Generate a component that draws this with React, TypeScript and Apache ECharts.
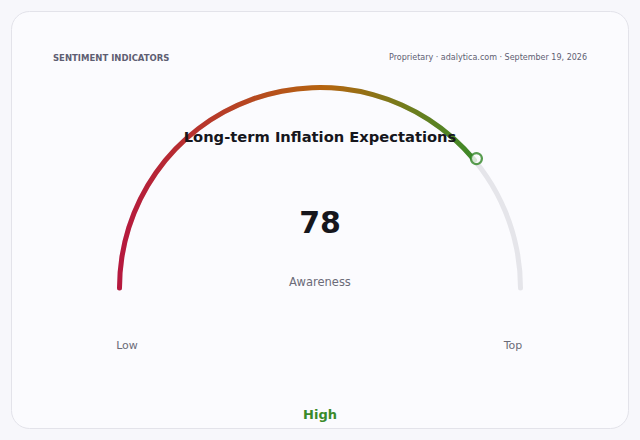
import { useEffect, useRef } from 'react'
import * as echarts from 'echarts'

// gauge data
const gaugeMin = 0
const gaugeMax = 100
const gaugeValue = 78
const gaugeName = 'Awareness'
const chartTitle = 'Long-term Inflation Expectations'
const headerLeft = 'SENTIMENT INDICATORS'
const headerRight = 'Proprietary · adalytica.com · September 19, 2026'
const endLabels = ['Low', 'Top']
const statusLabel = 'High'

const colors = {
  page: '#f7f7fb',
  card: '#fbfbfe',
  border: '#e3e3ea',
  track: '#e5e5ea',
  red: '#b5173f',
  orange: '#b5650f',
  olive: '#727c1c',
  green: '#3a8a2a',
  text: '#16161c',
  muted: '#6b6b78',
}

const font = '"DejaVu Sans", sans-serif'

export default function App() {
  const chartRef = useRef<HTMLDivElement>(null)

  useEffect(() => {
    if (!chartRef.current) return
    const chart = echarts.init(chartRef.current, undefined, { renderer: 'svg' })

    const cx = 320
    const cy = 288
    const r = 203

    const option: echarts.EChartsOption = {
      animation: false,
      backgroundColor: colors.page,
      textStyle: { fontFamily: font },
      title: {
        text: chartTitle,
        left: 'center',
        top: 124,
        textStyle: { fontSize: 14.7, fontWeight: 'bold', color: colors.text, fontFamily: font },
      },
      graphic: [
        {
          type: 'rect', z: -10, silent: true,
          shape: { x: 11.5, y: 11.5, width: 617, height: 417, r: 18 },
          style: { fill: colors.card, stroke: colors.border, lineWidth: 1 },
        },
        { type: 'text', left: 53, top: 53, style: { text: headerLeft, fill: '#5e5e72', font: `bold 8.5px ${font}` } },
        { type: 'text', right: 53, top: 53, style: { text: headerRight, fill: '#5e5e72', font: `8px ${font}` } },
        { type: 'text', x: 127, y: 345, style: { text: endLabels[0], fill: colors.muted, font: `11px ${font}`, align: 'center', verticalAlign: 'middle' } },
        { type: 'text', x: 513, y: 345, style: { text: endLabels[1], fill: colors.muted, font: `11px ${font}`, align: 'center', verticalAlign: 'middle' } },
        { type: 'text', x: 320, y: 414, style: { text: statusLabel, fill: colors.green, font: `bold 13px ${font}`, align: 'center', verticalAlign: 'middle' } },
      ],
      polar: { center: [cx, cy], radius: [0, r] },
      angleAxis: { type: 'value', min: gaugeMin, max: gaugeMax * 2, startAngle: 180, clockwise: true, show: false },
      radiusAxis: { type: 'value', min: 0, max: 1, show: false },
      series: [
        {
          type: 'gauge',
          center: [cx, cy],
          radius: r,
          startAngle: 180,
          endAngle: 0,
          min: gaugeMin,
          max: gaugeMax,
          axisLine: { roundCap: true, lineStyle: { width: 5, color: [[1, colors.track]] } },
          progress: {
            show: true,
            width: 5,
            roundCap: true,
            itemStyle: {
              color: {
                type: 'linear', x: 115, y: 0, x2: 478, y2: 0, global: true,
                colorStops: [
                  { offset: 0, color: colors.red },
                  { offset: 0.2, color: '#b8302f' },
                  { offset: 0.58, color: colors.orange },
                  { offset: 0.8, color: colors.olive },
                  { offset: 1, color: colors.green },
                ],
              },
            },
          },
          pointer: { show: false },
          anchor: { show: false },
          axisTick: { show: false },
          splitLine: { show: false },
          axisLabel: { show: false },
          title: { offsetCenter: [0, -6], fontSize: 11.5, color: colors.muted, fontFamily: font },
          detail: {
            offsetCenter: [0, -66],
            fontSize: 30,
            fontWeight: 'bold',
            color: colors.text,
            fontFamily: font,
            formatter: '{value}',
          },
          data: [{ value: gaugeValue, name: gaugeName }],
        },
        {
          type: 'scatter',
          coordinateSystem: 'polar',
          symbol: 'circle',
          symbolSize: 11,
          itemStyle: { color: colors.card, borderColor: '#2f8424', borderWidth: 2.2 },
          data: [[1, gaugeValue]],
          z: 5,
        },
      ],
    }

    chart.setOption(option)
    return () => chart.dispose()
  }, [])

  return (
    <div style={{ position: 'fixed', left: 0, top: 0, width: 640, height: 440 }}>
      <div ref={chartRef} style={{ width: '100%', height: '100%' }} />
    </div>
  )
}
